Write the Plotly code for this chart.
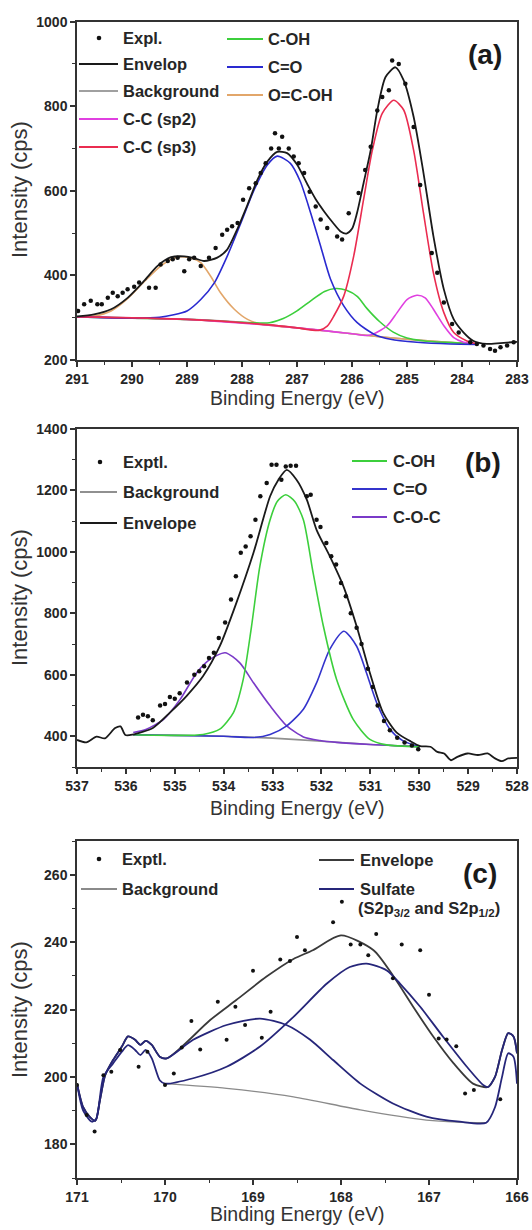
import plotly.graph_objects as go

W, H = 532, 1230

# ---------------- Panel (a): C 1s ----------------
a_expl_E = [290.98, 290.87, 290.75, 290.63, 290.55, 290.44, 290.35, 290.26, 290.17, 290.08,
            289.96, 289.87, 289.69, 289.57, 289.48, 289.35, 289.26, 289.17, 289.05, 288.96,
            288.87, 288.75, 288.6, 288.48, 288.36, 288.27, 288.18, 288.08, 287.98, 287.87,
            287.75, 287.66, 287.57, 287.47, 287.4, 287.33, 287.27, 287.15, 287.06, 286.97,
            286.87, 286.77, 286.66, 286.57, 286.45, 286.27, 286.18, 286.06, 285.88, 285.76,
            285.66, 285.54, 285.45, 285.33, 285.27, 285.15, 285.03, 284.88, 284.76, 284.55,
            284.45, 284.33, 284.18, 284.06, 283.85, 283.73, 283.61, 283.49, 283.4, 283.3,
            283.18, 283.06]
a_expl_I = [316, 332, 340, 332, 332, 347, 359, 351, 359, 367,
            373, 383, 371, 371, 426, 434, 438, 442, 410, 438,
            442, 422, 442, 465, 496, 508, 516, 524, 579, 606,
            618, 642, 665, 700, 736, 700, 728, 700, 681, 665,
            642, 598, 563, 532, 512, 492, 485, 547, 595, 649,
            704, 790, 822, 838, 908, 900, 853, 751, 614, 453,
            406, 336, 285, 265, 242, 238, 234, 226, 222, 230,
            234, 242]

a_env_E = [291.0, 290.69, 290.38, 290.08, 289.78, 289.54, 289.29, 289.05, 288.87, 288.69,
           288.45, 288.27, 288.09, 287.9, 287.72, 287.54, 287.36, 287.18, 287.0, 286.81,
           286.66, 286.5, 286.35, 286.2, 286.1, 286.0, 285.91, 285.79, 285.66, 285.54,
           285.39, 285.21, 285.06, 284.88, 284.7, 284.52, 284.33, 284.15, 283.97, 283.79,
           283.55, 283.3, 283.0]
a_env_I = [303, 308, 320, 347, 387, 422, 443, 445, 441, 434,
           442, 461, 508, 567, 626, 669, 692, 689, 662, 615,
           580, 550, 525, 503, 499, 510, 547, 618, 696, 790,
           869, 892, 861, 775, 642, 493, 367, 296, 265, 245,
           238, 240, 243]

a_bg_E = [291.0, 290.0, 289.0, 288.0, 287.5, 287.0, 286.5, 286.0, 285.5, 285.0, 284.5, 284.0, 283.75]
a_bg_I = [302, 299, 296, 289, 283, 276, 269, 262, 255, 249, 244, 240, 238]

a_sp2_E = [291.0, 289.0, 287.0, 286.0, 285.73, 285.6, 285.36, 285.18, 285.0, 284.82,
           284.67, 284.52, 284.33, 284.15, 283.97, 283.79]
a_sp2_I = [302, 296, 276, 262, 258, 262, 281, 312, 343, 353,
           347, 320, 281, 253, 242, 238]

a_sp3_E = [291.0, 289.0, 287.5, 287.0, 286.6, 286.45, 286.33, 286.15, 285.97, 285.79,
           285.63, 285.45, 285.24, 285.06, 284.88, 284.7, 284.52, 284.33, 284.15, 283.91, 283.75]
a_sp3_I = [302, 296, 283, 276, 270, 280, 304, 351, 445, 579,
           696, 783, 814, 791, 696, 547, 406, 312, 265, 245, 239]

a_coh_E = [291.0, 289.0, 288.0, 287.5, 287.25, 287.0, 286.75, 286.5, 286.3, 286.1,
           285.9, 285.73, 285.5, 285.25, 285.0, 284.75, 284.5, 284.0, 283.75]
a_coh_I = [302, 296, 289, 288, 298, 316, 340, 362, 369, 365,
           350, 322, 291, 266, 252, 246, 243, 240, 238]

a_co_E = [291.0, 290.0, 289.5, 289.0, 288.75, 288.5, 288.27, 288.02, 287.78, 287.54,
          287.36, 287.12, 286.94, 286.75, 286.57, 286.39, 286.15, 285.91, 285.6, 285.3,
          284.82, 284.21, 283.75]
a_co_I = [302, 299, 301, 316, 343, 383, 445, 524, 602, 661,
          682, 665, 622, 547, 469, 391, 328, 289, 261, 249,
          242, 238, 237]

a_ocoh_E = [291.0, 290.69, 290.38, 290.08, 289.78, 289.48, 289.25, 289.1, 288.9, 288.75,
            288.57, 288.39, 288.14, 287.9, 287.66, 287.3, 287.0, 286.5, 286.0, 285.5,
            285.0, 284.5, 284.0, 283.75]
a_ocoh_I = [302, 304, 316, 345, 385, 422, 440, 444, 440, 430,
            398, 359, 320, 296, 285, 279, 276, 269, 262, 255,
            249, 244, 240, 238]

# ---------------- Panel (b): O 1s ----------------
b_expl_E = [535.75, 535.65, 535.55, 535.45, 535.3, 535.2, 535.1, 535.0, 534.9, 534.75,
            534.6, 534.5, 534.4, 534.3, 534.2, 534.1, 533.97, 533.85, 533.75, 533.65,
            533.55, 533.45, 533.35, 533.25, 533.12, 533.02, 532.92, 532.82, 532.73, 532.63,
            532.52, 532.3, 532.22, 532.1, 532.02, 531.9, 531.8, 531.7, 531.6, 531.5,
            531.4, 531.28, 531.18, 531.05, 530.95, 530.85, 530.72, 530.6, 530.45, 530.3,
            530.15, 530.02]
b_expl_I = [461, 470, 465, 452, 500, 505, 528, 522, 540, 575,
            600, 612, 628, 655, 672, 720, 770, 845, 921, 997,
            1018, 1051, 1105, 1181, 1224, 1284, 1284, 1235, 1278, 1280,
            1280, 1181, 1186, 1105, 1081, 1029, 986, 959, 899, 856,
            800, 753, 700, 620, 560, 500, 450, 420, 395, 380,
            370, 358]

b_env_E = [537.0, 536.81, 536.6, 536.43, 536.22, 536.11, 536.01, 535.87, 535.44, 535.1,
           534.76, 534.42, 534.08, 533.74, 533.39, 533.05, 532.88, 532.71, 532.51, 532.3,
           532.1, 531.83, 531.55, 531.28, 531.01, 530.74, 530.46, 530.19, 529.98, 529.77,
           529.63, 529.49, 529.35, 529.22, 529.01, 528.8, 528.6, 528.45, 528.31, 528.18, 528.0]
b_env_I = [388, 380, 399, 393, 427, 432, 404, 405, 428, 477,
           531, 596, 693, 834, 997, 1181, 1235, 1267, 1235, 1170,
           1072, 986, 888, 758, 607, 477, 412, 385, 368, 366,
           349, 344, 322, 333, 344, 339, 344, 328, 319, 328, 330]

b_bg_E = [535.85, 535.0, 534.0, 533.0, 532.0, 531.0, 530.0]
b_bg_I = [405, 403, 400, 394, 384, 373, 366]

b_coh_E = [535.85, 535.0, 534.42, 534.08, 533.8, 533.6, 533.43, 533.26, 533.05, 532.9,
           532.73, 532.55, 532.37, 532.17, 531.96, 531.69, 531.35, 531.01, 530.67, 530.0]
b_coh_I = [405, 403, 406, 423, 477, 585, 758, 953, 1105, 1165,
           1186, 1165, 1105, 932, 758, 585, 455, 390, 372, 366]

b_co_E = [535.85, 534.0, 533.39, 533.05, 532.71, 532.37, 532.1, 531.83, 531.54, 531.28,
          531.08, 530.87, 530.6, 530.33, 529.99]
b_co_I = [405, 400, 396, 406, 434, 488, 574, 683, 742, 693,
          607, 509, 423, 385, 366]

b_coc_E = [535.85, 535.58, 535.23, 534.89, 534.55, 534.28, 533.97, 533.67, 533.39, 533.05,
           532.71, 532.37, 532.03, 531.69, 531.0, 530.0]
b_coc_I = [412, 423, 455, 520, 607, 650, 672, 639, 574, 499,
           434, 398, 386, 380, 373, 366]

# ---------------- Panel (c): S 2p ----------------
c_expl_E = [171.0, 170.89, 170.8, 170.7, 170.61, 170.51, 170.3, 170.2, 170.0, 169.9,
            169.81, 169.7, 169.6, 169.4, 169.3, 169.2, 169.09, 169.0, 168.9, 168.8,
            168.69, 168.58, 168.5, 168.41, 168.09, 167.99, 167.89, 167.78, 167.69, 167.6,
            167.41, 167.31, 167.1, 167.0, 166.89, 166.8, 166.69, 166.59, 166.49, 166.19]
c_expl_I = [197.6, 188.7, 183.8, 200.5, 201.5, 208, 203, 207.5, 197.6, 201,
            208.7, 216.6, 208.1, 222.3, 211, 220.8, 215.4, 231.5, 211.6, 219.3,
            234.8, 234.4, 241.5, 237.6, 245.9, 252, 239.3, 239.3, 236.1, 242.4,
            229.3, 239.3, 237.6, 224.4, 211.4, 211.1, 209.1, 195.1, 196.1, 193.4]

c_env_E = [171.0, 170.93, 170.85, 170.79, 170.74, 170.68, 170.59, 170.49, 170.42, 170.34,
           170.28, 170.22, 170.15, 170.06, 169.98, 169.79, 169.49, 169.19, 168.85, 168.54,
           168.32, 168.0, 167.63, 167.4, 167.18, 166.95, 166.72, 166.5, 166.33, 166.25,
           166.17, 166.1, 166.04, 166.0]
c_env_I = [198, 191, 188, 187, 193, 200.5, 205, 209, 212, 211,
           209.5, 210.7, 209.5, 206, 205.5, 209.4, 216.8, 222.8, 229.7, 235,
           237.6, 242, 237.6, 229.7, 220.8, 211.9, 204, 198, 197, 200,
           208, 213, 212, 207]

c_s1_E = [171.0, 170.93, 170.85, 170.79, 170.74, 170.68, 170.59, 170.49, 170.42, 170.34,
          170.28, 170.22, 170.15, 170.06, 169.98, 169.68, 169.3, 168.92, 168.62, 168.35,
          168.09, 167.78, 167.41, 167.03, 166.65, 166.35, 166.25, 166.17, 166.1, 166.04, 166.0]
c_s1_I = [198, 191, 188, 187, 193, 200.5, 205, 209, 212, 211,
          209.5, 210.7, 209.5, 206, 205.5, 211, 215.4, 217.3, 215.4, 211,
          205, 198, 192.1, 188.2, 186.7, 186.4, 191, 200, 207, 206, 198]

c_s2_E = [171.0, 170.93, 170.83, 170.78, 170.7, 170.59, 170.49, 170.42, 170.34, 170.28,
          170.22, 170.15, 170.06, 170.0, 169.68, 169.3, 168.92, 168.54, 168.16, 167.9,
          167.71, 167.48, 167.33, 167.1, 166.84, 166.57, 166.38, 166.33, 166.25, 166.17,
          166.1, 166.04, 166.0]
c_s2_I = [198, 190, 186.7, 187.7, 200, 204, 207.5, 209.4, 208, 206.5,
          208, 205.5, 199, 198, 199.6, 203, 209, 217.8, 227.7, 232.6,
          233.6, 231.6, 227.7, 220.8, 211.9, 203, 197.5, 197, 200, 208,
          213, 212, 207]

c_bg_E = [170.0, 169.3, 168.54, 167.78, 167.03, 166.46, 166.35]
c_bg_I = [198, 196.6, 194.1, 190.2, 187.2, 186.4, 186.4]

# ---------------- helpers ----------------
def fx(px):
    return px / W


def fy(py):
    return 1 - py / H


FONT = "Liberation Sans, Arial, sans-serif"
TXT = "#262626"

fig = go.Figure()


def add_line(E, I, color, ax, width=1.6):
    fig.add_trace(go.Scatter(
        x=E, y=I, mode="lines", xaxis="x" + ax, yaxis="y" + ax,
        line=dict(color=color, width=width, shape="spline", smoothing=0.7),
        showlegend=False, hoverinfo="skip"))


def add_dots(E, I, ax, size=4.5):
    fig.add_trace(go.Scatter(
        x=E, y=I, mode="markers", xaxis="x" + ax, yaxis="y" + ax,
        marker=dict(color="#111111", size=size),
        showlegend=False, hoverinfo="skip"))


# panel (a)
add_line(a_bg_E, a_bg_I, "#a0a0a0", "")
add_line(a_ocoh_E, a_ocoh_I, "#e2a66a", "")
add_line(a_coh_E, a_coh_I, "#3ccf3c", "")
add_line(a_sp2_E, a_sp2_I, "#e040e0", "")
add_line(a_co_E, a_co_I, "#2a2ad0", "")
add_line(a_sp3_E, a_sp3_I, "#ea2c50", "")
add_line(a_env_E, a_env_I, "#1a1a1a", "", 1.8)
add_dots(a_expl_E, a_expl_I, "")

# panel (b)
add_line(b_bg_E, b_bg_I, "#909090", "2")
add_line(b_coc_E, b_coc_I, "#7a3ac8", "2")
add_line(b_co_E, b_co_I, "#3434cc", "2")
add_line(b_coh_E, b_coh_I, "#3ccf3c", "2")
add_line(b_env_E, b_env_I, "#1a1a1a", "2", 1.8)
add_dots(b_expl_E, b_expl_I, "2")

# panel (c)
add_line(c_bg_E, c_bg_I, "#8a8a8a", "3", 1.3)
add_line(c_env_E, c_env_I, "#3a3a3a", "3", 1.8)
add_line(c_s1_E, c_s1_I, "#26267a", "3", 1.8)
add_line(c_s2_E, c_s2_I, "#26267a", "3", 1.8)
add_dots(c_expl_E, c_expl_I, "3", 4)

XDOM = [fx(77), fx(517)]


def axis_common():
    return dict(
        showline=True, linecolor="#333333", linewidth=1.5, mirror=True,
        ticks="outside", ticklen=5, tickwidth=1.5, tickcolor="#333333",
        tickfont=dict(family=FONT, size=14, color=TXT, weight="bold"),
        showgrid=False, zeroline=False, automargin=False, fixedrange=True,
    )


def xaxis(rng, anchor, minor_d):
    d = axis_common()
    d.update(range=rng, domain=XDOM, anchor=anchor, dtick=1, tick0=0,
             minor=dict(ticks="outside", ticklen=3, tickwidth=1.2,
                        tickcolor="#333333", dtick=minor_d, showgrid=False))
    return d


def yaxis(rng, anchor, dom, dtick, minor_d):
    d = axis_common()
    d.update(range=rng, domain=dom, anchor=anchor, dtick=dtick, tick0=0,
             minor=dict(ticks="outside", ticklen=3, tickwidth=1.2,
                        tickcolor="#333333", dtick=minor_d, showgrid=False))
    return d


fig.update_layout(
    width=W, height=H,
    margin=dict(l=0, r=0, t=0, b=0),
    paper_bgcolor="white", plot_bgcolor="white",
    template="none",
    showlegend=False,
    xaxis=xaxis([291, 283], "y", 0.5),
    yaxis=yaxis([200, 1000], "x", [fy(360), fy(21.6)], 200, 100),
    xaxis2=xaxis([537, 528], "y2", 0.5),
    yaxis2=yaxis([300, 1400], "x2", [fy(767), fy(429)], 200, 100),
    xaxis3=xaxis([171, 166], "y3", 0.5),
    yaxis3=yaxis([170, 270], "x3", [fy(1178), fy(841)], 20, 10),
)

annotations = []
shapes = []


def text(x, y, s, size=16.5, bold=True, xanchor="left", angle=0, color=TXT):
    annotations.append(dict(
        x=fx(x), y=fy(y), xref="paper", yref="paper", text=s, showarrow=False,
        xanchor=xanchor, yanchor="middle", textangle=angle,
        font=dict(family=FONT, size=size, color=color,
                  weight="bold" if bold else "normal")))


def leg_line(x0, x1, y, color, width=1.8):
    shapes.append(dict(type="line", xref="paper", yref="paper",
                       x0=fx(x0), x1=fx(x1), y0=fy(y), y1=fy(y),
                       line=dict(color=color, width=width)))


def leg_dot(x, y, r=2.3):
    shapes.append(dict(type="circle", xref="paper", yref="paper",
                       x0=fx(x - r), x1=fx(x + r), y0=fy(y + r), y1=fy(y - r),
                       fillcolor="#111111", line=dict(width=0)))


# axis titles
for yc in (190, 598, 1010):
    text(19, yc, "Intensity (cps)", size=22, bold=False, xanchor="center", angle=-90, color="#333333")
for yc in (398, 808, 1214):
    text(297, yc, "Binding Energy (eV)", size=19.5, bold=False, xanchor="center", color="#333333")

# panel labels
text(485, 54, "(a)", size=28, xanchor="center", color="#1a1a1a")
text(483, 462, "(b)", size=28, xanchor="center", color="#1a1a1a")
text(480, 873, "(c)", size=28, xanchor="center", color="#1a1a1a")

# legend (a)
leg_dot(99, 38)
text(121, 38, "Expl.")
leg_line(79, 118, 64, "#1a1a1a")
text(121, 64, "Envelop")
leg_line(79, 118, 91, "#a0a0a0")
text(121, 91, "Background")
leg_line(79, 118, 119, "#e040e0")
text(121, 119, "C-C (sp2)")
leg_line(79, 118, 147, "#ea2c50")
text(121, 147, "C-C (sp3)")
leg_line(227, 263, 39, "#3ccf3c")
text(266, 39, "C-OH")
leg_line(227, 263, 67, "#2a2ad0")
text(266, 67, "C=O")
leg_line(227, 263, 95, "#e2a66a")
text(266, 95, "O=C-OH")

# legend (b)
leg_dot(100, 462)
text(121, 462, "Exptl.")
leg_line(80, 117, 492, "#909090")
text(121, 492, "Background")
leg_line(80, 117, 523, "#1a1a1a")
text(121, 523, "Envelope")
leg_line(352, 387, 461, "#3ccf3c")
text(391, 461, "C-OH")
leg_line(352, 387, 489, "#3434cc")
text(391, 489, "C=O")
leg_line(352, 387, 517, "#7a3ac8")
text(391, 517, "C-O-C")

# legend (c)
leg_dot(99, 859)
text(120, 859, "Exptl.")
leg_line(81, 117, 889, "#8a8a8a")
text(120, 889, "Background")
leg_line(319, 354, 860, "#3a3a3a")
text(358, 860, "Envelope")
leg_line(319, 354, 889, "#26267a")
text(358, 889, "Sulfate")
text(356, 909, "(S2p<sub>3/2</sub> and S2p<sub>1/2</sub>)")

fig.update_layout(annotations=annotations, shapes=shapes)

fig.write_html("out.html", config={"displayModeBar": False},
               post_script="document.body.style.margin='0px';")
